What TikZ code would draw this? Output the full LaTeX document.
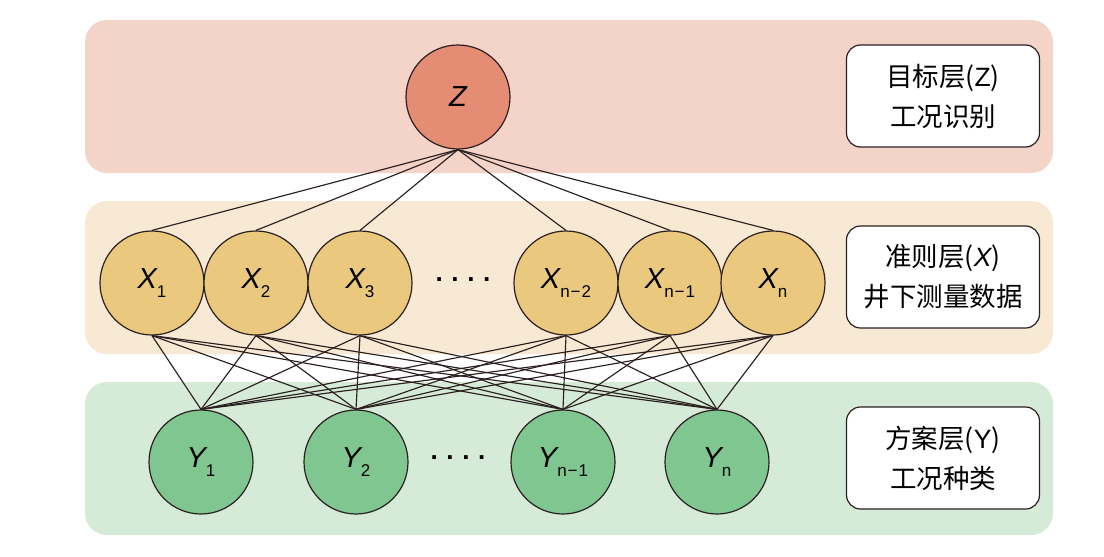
\documentclass[tikz,border=0pt]{standalone}
\usepackage{fontspec}
\setmainfont{Liberation Sans}
\setsansfont{Liberation Sans}
\newfontfamily\cjk{Noto Sans CJK SC}
\definecolor{bandR}{HTML}{F4D3C9}
\definecolor{bandY}{HTML}{F7E9D3}
\definecolor{bandG}{HTML}{D5EAD7}
\definecolor{fillZ}{HTML}{E58C74}
\definecolor{fillX}{HTML}{EAC97F}
\definecolor{fillY}{HTML}{80C691}
\definecolor{ink}{HTML}{2B2020}
\newcommand{\lbl}[2]{{\itshape #1}\raisebox{-0.3em}{\fontsize{17}{17}\selectfont #2}}
\begin{document}
\begin{tikzpicture}[x=1pt,y=-1pt,
  band/.style={rounded corners=22pt,draw=none},
  nd/.style={circle,draw=ink,line width=1.2pt,minimum size=104pt,inner sep=0pt,font=\fontsize{29}{29}\selectfont},
  lab/.style={draw=ink,line width=1.2pt,fill=white,rounded corners=14pt,minimum width=193pt,minimum height=102pt,align=center,font=\cjk\fontsize{26.5}{40}\selectfont},
  edge/.style={draw=ink,line width=1.15pt},
  dots/.style={font=\fontsize{26}{26}\selectfont\bfseries}]
\useasboundingbox (0,0) rectangle (1104,557);
\fill[white] (0,0) rectangle (1104,557);
\fill[band,fill=bandR] (85,20) rectangle (1053,173);
\fill[band,fill=bandY] (85,201) rectangle (1053,354);
\fill[band,fill=bandG] (85,382) rectangle (1053,535);
% nodes
\node[nd,fill=fillZ] (Z) at (458,97) {\itshape Z};
\node[nd,fill=fillX] (X1) at (152,283) {\lbl{X}{1}};
\node[nd,fill=fillX] (X2) at (256,283) {\lbl{X}{2}};
\node[nd,fill=fillX] (X3) at (360,283) {\lbl{X}{3}};
\node[dots] (dx) at (463,280) {.\,\,.\,\,.\,\,.};
\node[nd,fill=fillX] (X4) at (566,283) {\lbl{X}{n\hspace{1pt}−\hspace{1pt}2}};
\node[nd,fill=fillX] (X5) at (670,283) {\lbl{X}{n\hspace{1pt}−\hspace{1pt}1}};
\node[nd,fill=fillX] (X6) at (773,283) {\lbl{X}{n}};
\node[nd,fill=fillY] (Y1) at (201,462) {\lbl{Y}{1}};
\node[nd,fill=fillY] (Y2) at (356,462) {\lbl{Y}{2}};
\node[dots] (dy) at (458,458) {.\,\,.\,\,.\,\,.};
\node[nd,fill=fillY] (Y3) at (563,462) {\lbl{Y}{n\hspace{1pt}−\hspace{1pt}1}};
\node[nd,fill=fillY] (Y4) at (717,462) {\lbl{Y}{n}};
% edges
\foreach \i in {1,...,6} {
  \draw[edge] (Z.south) -- (X\i.north);
  \foreach \j in {1,...,4} {
    \draw[edge] (X\i.south) -- (Y\j.north);
  }
}
% labels
\node[lab] (L1) at (943,96) {目标层({\fontspec{Liberation Sans}Z})\\工况识别};
\node[lab] (L2) at (943,277) {准则层({\fontspec{Liberation Sans}\itshape X})\\井下测量数据};
\node[lab] (L3) at (943,458) {方案层({\fontspec{Liberation Sans}Y})\\工况种类};
\end{tikzpicture}
\end{document}
